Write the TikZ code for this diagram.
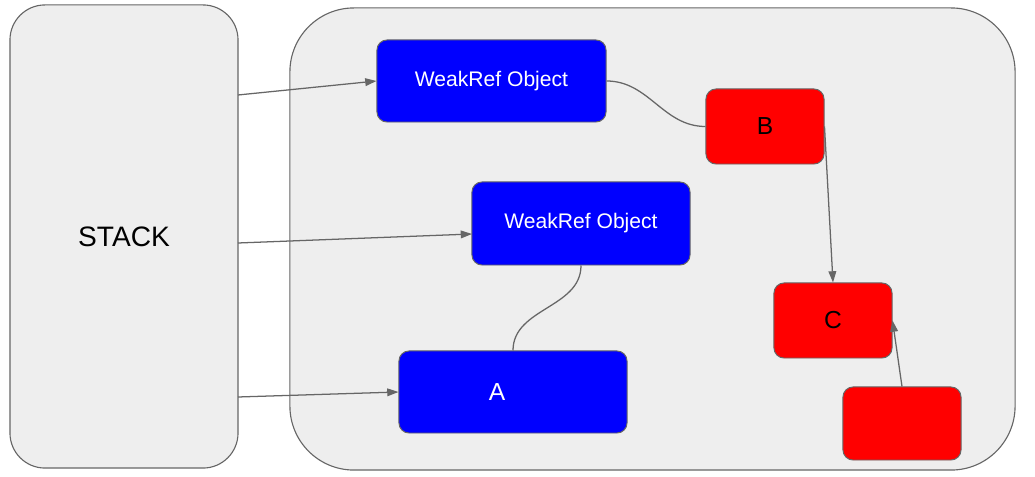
\documentclass[tikz,border=0pt]{standalone}
\usepackage{fontspec}
\setmainfont{Liberation Sans}
\usetikzlibrary{arrows.meta}
\usetikzlibrary{calc}

\definecolor{boxgray}{HTML}{EEEEEE}
\definecolor{linegray}{HTML}{666666}
\definecolor{objblue}{HTML}{0000FF}
\definecolor{objred}{HTML}{FF0000}

\tikzset{
  area/.style={draw=linegray, line width=0.8pt, fill=boxgray, inner sep=0pt},
  objbox/.style={draw=linegray, line width=0.7pt, rounded corners=0.25cm, inner sep=0pt},
  bluebox/.style={objbox, fill=objblue, text=white},
  redbox/.style={objbox, fill=objred, text=black},
  ref/.style={draw=linegray, line width=0.9pt, -{Triangle[length=8pt,width=5.5pt]}},
  link/.style={draw=linegray, line width=0.9pt}
}

\begin{document}
\begin{tikzpicture}[x=0.025cm, y=-0.025cm]
        \useasboundingbox (0,0) rectangle (1035,477);

        % Stack and heap
        \node [area, rounded corners=0.875cm, minimum width=5.7cm, minimum height=11.575cm,
               font=\fontsize{20}{24}\selectfont] (stack) at (124,236.5) {STACK};
        \node [area, rounded corners=1.6cm, minimum width=18.125cm, minimum height=11.55cm] (heap) at (652.5,239) {};

        % Blue objects
        \node [bluebox, minimum width=5.725cm, minimum height=2.05cm,
               font=\fontsize{15}{18}\selectfont] (wr1) at (491.5,81) {WeakRef Object};
        \node [bluebox, minimum width=5.45cm, minimum height=2.075cm,
               font=\fontsize{15}{18}\selectfont] (wr2) at (581,223.5) {WeakRef Object};
        \node [bluebox, minimum width=5.7cm, minimum height=2.05cm,
               font=\fontsize{17.5}{20}\selectfont] (objA) at (513,392) {A\hspace*{0.8cm}};

        % Red objects
        \node [redbox, minimum width=2.95cm, minimum height=1.875cm,
               font=\fontsize{17.5}{20}\selectfont] (objB) at (765,126.5) {B};
        \node [redbox, minimum width=2.95cm, minimum height=1.875cm,
               font=\fontsize{17.5}{20}\selectfont] (objC) at (833,320.5) {C};
        \node [redbox, minimum width=2.95cm, minimum height=1.825cm] (objD) at (902,423.5) {};

        % References from the stack
        \coordinate (s1) at (238,95);
        \coordinate (s2) at (238,243);
        \coordinate (s3) at (238,397);
        \coordinate (e2) at (472,234);
        \draw [ref] (s1) -- (wr1.west);
        \draw [ref] (s2) -- (e2);
        \draw [ref] (s3) -- (objA.west);

        % Weak links
        \draw [link] (wr1.east) to [out=0, in=180] (objB.west);
        \draw [link] (wr2.south) to [out=-90, in=90] (objA.north);

        % Strong references
        \draw [ref] (objB.east) -- (objC.north);
        \draw [ref] (objD.north) -- (objC.east);
    \end{tikzpicture}
\end{document}
